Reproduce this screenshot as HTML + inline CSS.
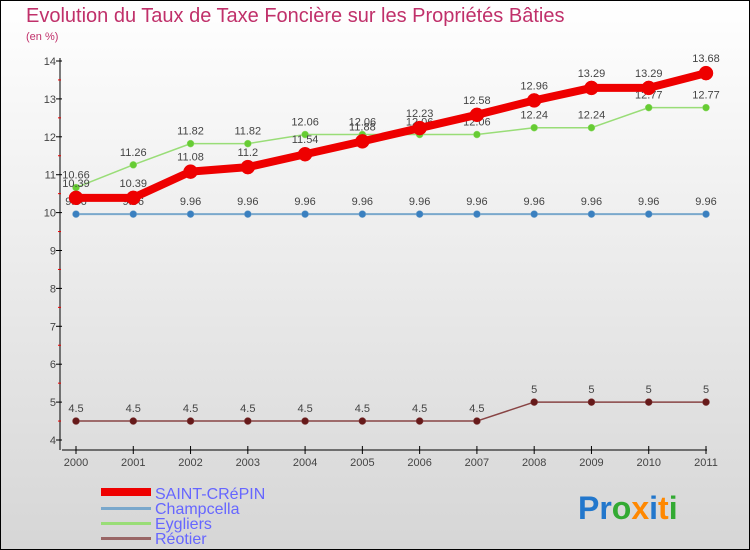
<!DOCTYPE html>
<html><head><meta charset="utf-8"><style>
body{margin:0}
#c{width:750px;height:550px;position:relative;box-sizing:border-box;border:1px solid #000;background:linear-gradient(#ffffff,#d6d6d6);font-family:"Liberation Sans",sans-serif;overflow:hidden}
</style></head><body>
<div id="c">
<svg id="s" width="750" height="550" style="position:absolute;left:-1px;top:-1px">
<text x="26" y="22" font-size="20" fill="#c0306a">Evolution du Taux de Taxe Foncière sur les Propriétés Bâties</text>
<text x="26" y="40" font-size="11" fill="#c0306a">(en %)</text>
<g id="axes"></g><g id="series"></g>
<g>
<rect x="101" y="488" width="50" height="8" fill="#e00"/>
<text x="155" y="499" font-size="16" fill="#6666ff">SAINT-CRéPIN</text>
<rect x="101" y="507" width="50" height="3" fill="#7aa8cc"/>
<text x="155" y="514" font-size="16" fill="#6666ff">Champcella</text>
<rect x="101" y="522" width="50" height="3" fill="#99dd77"/>
<text x="155" y="529" font-size="16" fill="#6666ff">Eygliers</text>
<rect x="101" y="537" width="50" height="3" fill="#996666"/>
<text x="155" y="544" font-size="16" fill="#6666ff">Réotier</text>
</g>
<text x="578" y="519" font-size="32" font-weight="bold"><tspan fill="#2277cc">Pr</tspan><tspan fill="#33aa33">o</tspan><tspan fill="#ff8800">x</tspan><tspan fill="#2277cc">i</tspan><tspan fill="#ff8800">t</tspan><tspan fill="#33aa33">i</tspan></text>
</svg>
</div>
<script>
const years=["2000","2001","2002","2003","2004","2005","2006","2007","2008","2009","2010","2011"];
const yTicks=[4,5,6,7,8,9,10,11,12,13,14];
const saintCrepin=[10.39,10.39,11.08,11.2,11.54,11.88,12.23,12.58,12.96,13.29,13.29,13.68];
const champcella=[9.96,9.96,9.96,9.96,9.96,9.96,9.96,9.96,9.96,9.96,9.96,9.96];
const eygliers=[10.66,11.26,11.82,11.82,12.06,12.06,12.06,12.06,12.24,12.24,12.77,12.77];
const reotier=[4.5,4.5,4.5,4.5,4.5,4.5,4.5,4.5,5,5,5,5];
const NS="http://www.w3.org/2000/svg";
function X(i){return 76+i*(706-76)/(years.length-1);}
function Y(v){return 440-(v-4)*(440-61)/10;}
function mk(t,a,p){const e=document.createElementNS(NS,t);for(const k in a)e.setAttribute(k,a[k]);p.appendChild(e);return e;}
const ax=document.getElementById('axes');
const yl=mk('line',{x1:60,y1:58,x2:60,y2:450,stroke:'#000'},ax);


const xl=mk('line',{x1:62,y1:450,x2:707,y2:450,stroke:'#000'},ax);


yTicks.forEach(v=>{
 mk('line',{x1:56,y1:Y(v),x2:62,y2:Y(v),stroke:'#000'},ax);
 if(v<14)mk('line',{x1:58,y1:Y(v+0.5),x2:61,y2:Y(v+0.5),stroke:'#e00'},ax);
 const t=mk('text',{x:56,y:Y(v)+4,'font-size':11,fill:'#444','text-anchor':'end'},ax);t.textContent=v;
 
 
});
years.forEach((y,i)=>{
 mk('line',{x1:X(i),y1:446,x2:X(i),y2:454,stroke:'#000'},ax);
 const t=mk('text',{x:X(i),y:466,'font-size':11,fill:'#444','text-anchor':'middle'},ax);t.textContent=y;
 
 
});
const sg=document.getElementById('series');
function draw(data,color,w,r,name,dot){
 const g=mk('g',{},sg);
 
 
 mk('polyline',{points:data.map((v,i)=>X(i)+','+Y(v)).join(' '),fill:'none',stroke:color,'stroke-width':w,'stroke-linejoin':'round'},g);
 data.forEach((v,i)=>{
  const c=mk('circle',{cx:X(i),cy:Y(v),r:r,fill:dot,stroke:color,'stroke-width':0.5},g);
  
  
  const t=mk('text',{x:X(i),y:Y(v)-9-(r>4?2:0),'font-size':11,fill:'#444','text-anchor':'middle'},g);t.textContent=v;
 });
}
draw(reotier,'#884444',1.5,3.5,'series-reotier','#661a1a');
draw(champcella,'#7aa8cc',2,3.5,'series-champcella','#3a80c0');
draw(eygliers,'#99dd77',1.5,3.5,'series-eygliers','#66cc33');
draw(saintCrepin,'#e00',8,7,'series-saint-crepin','#e00');
</script>
</body></html>
